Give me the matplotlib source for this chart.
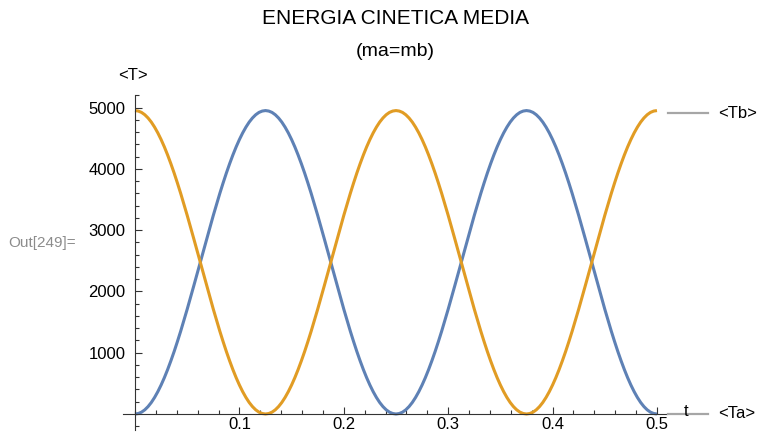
import numpy as np
import matplotlib.pyplot as plt
from matplotlib.lines import Line2D
from matplotlib.ticker import MultipleLocator, FixedLocator

plt.rcParams['font.family'] = ['Liberation Sans', 'DejaVu Sans']

# sample times (s)
t = np.linspace(0, 0.5, 161)

# <Ta>
ta = [0, 8, 30, 68, 121, 188, 270, 365, 473, 593, 725, 868, 1020, 1182, 1351, 1528,
      1710, 1897, 2088, 2281, 2475, 2669, 2862, 3053, 3240, 3422, 3599, 3768, 3930,
      4082, 4225, 4357, 4477, 4585, 4680, 4762, 4829, 4882, 4920, 4942, 4950,
      4942, 4920, 4882, 4829, 4762, 4680, 4585, 4477, 4357, 4225, 4082, 3930, 3768,
      3599, 3422, 3240, 3053, 2862, 2669, 2475, 2281, 2088, 1897, 1710, 1528, 1351,
      1182, 1020, 868, 725, 593, 473, 365, 270, 188, 121, 68, 30, 8, 0,
      8, 30, 68, 121, 188, 270, 365, 473, 593, 725, 868, 1020, 1182, 1351, 1528,
      1710, 1897, 2088, 2281, 2475, 2669, 2862, 3053, 3240, 3422, 3599, 3768, 3930,
      4082, 4225, 4357, 4477, 4585, 4680, 4762, 4829, 4882, 4920, 4942, 4950,
      4942, 4920, 4882, 4829, 4762, 4680, 4585, 4477, 4357, 4225, 4082, 3930, 3768,
      3599, 3422, 3240, 3053, 2862, 2669, 2475, 2281, 2088, 1897, 1710, 1528, 1351,
      1182, 1020, 868, 725, 593, 473, 365, 270, 188, 121, 68, 30, 8, 0]

# <Tb>
tb = [4950, 4942, 4920, 4882, 4829, 4762, 4680, 4585, 4477, 4357, 4225, 4082, 3930,
      3768, 3599, 3422, 3240, 3053, 2862, 2669, 2475, 2281, 2088, 1897, 1710, 1528,
      1351, 1182, 1020, 868, 725, 593, 473, 365, 270, 188, 121, 68, 30, 8, 0,
      8, 30, 68, 121, 188, 270, 365, 473, 593, 725, 868, 1020, 1182, 1351, 1528,
      1710, 1897, 2088, 2281, 2475, 2669, 2862, 3053, 3240, 3422, 3599, 3768, 3930,
      4082, 4225, 4357, 4477, 4585, 4680, 4762, 4829, 4882, 4920, 4942, 4950,
      4942, 4920, 4882, 4829, 4762, 4680, 4585, 4477, 4357, 4225, 4082, 3930, 3768,
      3599, 3422, 3240, 3053, 2862, 2669, 2475, 2281, 2088, 1897, 1710, 1528, 1351,
      1182, 1020, 868, 725, 593, 473, 365, 270, 188, 121, 68, 30, 8, 0,
      8, 30, 68, 121, 188, 270, 365, 473, 593, 725, 868, 1020, 1182, 1351, 1528,
      1710, 1897, 2088, 2281, 2475, 2669, 2862, 3053, 3240, 3422, 3599, 3768, 3930,
      4082, 4225, 4357, 4477, 4585, 4680, 4762, 4829, 4882, 4920, 4942, 4950]

xticks = [0.1, 0.2, 0.3, 0.4, 0.5]
yticks = [1000, 2000, 3000, 4000, 5000]

blue = '#5E81B5'
orange = '#E19C24'
gray = '#A6A6A6'

fig = plt.figure(figsize=(7.6, 4.33), dpi=100)
W, H = 760, 433
ax = fig.add_axes([123 / W, 1 - 430 / H, 544 / W, 335 / H])
ax.set_xlim(-0.0115, 0.5096)
ax.set_ylim(-261, 5204)

ax.plot(t, ta, color=blue, lw=2.2, solid_capstyle='butt', clip_on=False)
ax.plot(t, tb, color=orange, lw=2.2, solid_capstyle='butt', clip_on=False)

for s in ['top', 'right']:
    ax.spines[s].set_visible(False)
ax.spines['left'].set_position(('data', 0))
ax.spines['bottom'].set_position(('data', 0))
for s in ['left', 'bottom']:
    ax.spines[s].set_linewidth(0.8)
    ax.spines[s].set_color('#333333')

ax.xaxis.set_major_locator(FixedLocator(xticks))
ax.yaxis.set_major_locator(FixedLocator(yticks))
ax.xaxis.set_minor_locator(MultipleLocator(0.02))
ax.yaxis.set_minor_locator(MultipleLocator(200))
ax.tick_params(which='both', direction='in', color='#333333', width=0.8,
               labelsize=12, labelcolor='black')
ax.tick_params(which='major', length=5)
ax.tick_params(which='minor', length=3)
ax.tick_params(axis='x', pad=2.5)
ax.tick_params(axis='y', pad=7)

# titles and labels
fig.text(0.5 + 15 / W, 1 - 18 / H, 'ENERGIA CINETICA MEDIA', ha='center', va='center', fontsize=15)
fig.text(0.5 + 15 / W, 1 - 52 / H, '(ma=mb)', ha='center', va='center', fontsize=14)
fig.text(133 / W, 1 - 75 / H, '<T>', ha='center', va='center', fontsize=12)
fig.text(8 / W, 1 - 243 / H, 'Out[249]=', ha='left', va='center', fontsize=11, color='#8C8C8C')

# legend entries at the right
for y, lab in [(113, '<Tb>'), (414, '<Ta>')]:
    fig.add_artist(Line2D([668 / W, 708 / W], [1 - y / H, 1 - y / H], color=gray, lw=1.6))
    fig.text(718 / W, 1 - y / H, lab, ha='left', va='center', fontsize=12)
fig.text(686 / W, 1 - 411 / H, 't', ha='center', va='center', fontsize=12)

fig.savefig('out.png', dpi=100)
